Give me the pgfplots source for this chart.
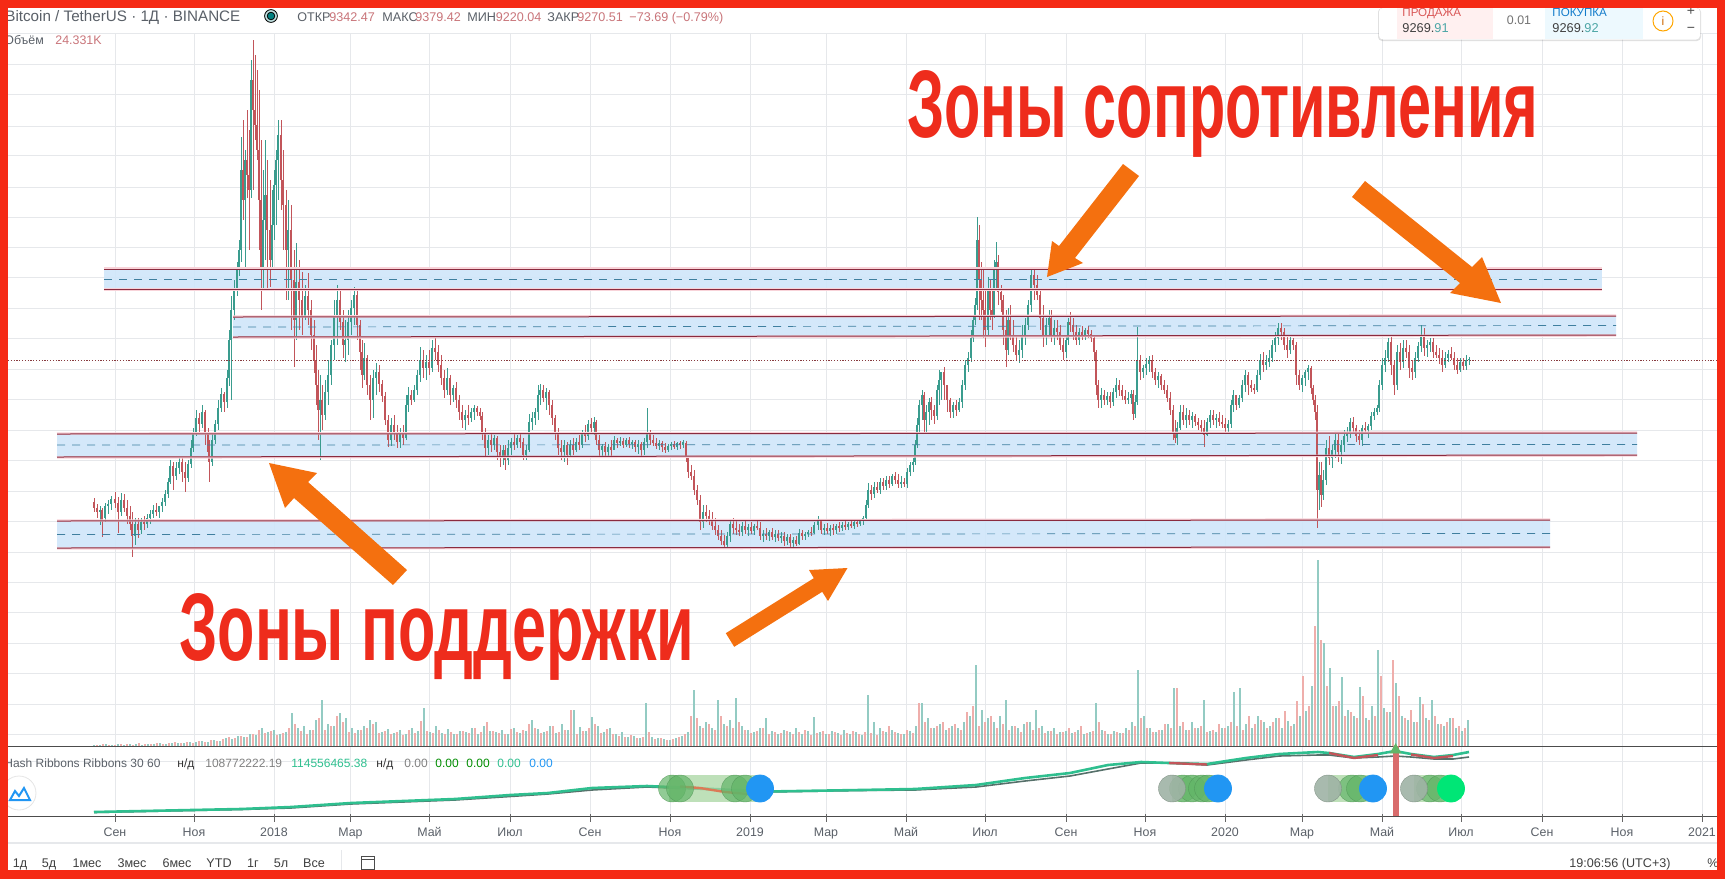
\documentclass[border=0pt]{standalone}
\usepackage{pgfplots}
\pgfplotsset{compat=1.18}
\usepackage{pgfplotstable}
\usepackage{fontspec}
\setmainfont{Liberation Sans}
\definecolor{up}{HTML}{3A9C8E}
\definecolor{down}{HTML}{C2555A}
\definecolor{volup}{HTML}{93CBC3}
\definecolor{voldown}{HTML}{EFAEAB}
\definecolor{zone}{HTML}{CFE6FA}
\definecolor{zoneline}{HTML}{8A2B3F}
\definecolor{halo}{HTML}{F8D3D9}
\definecolor{zonedash}{HTML}{3F7F9F}
\definecolor{gridc}{HTML}{E6E8EB}
\definecolor{arrow}{HTML}{F4700F}
\definecolor{bigred}{HTML}{EE2C1C}
\definecolor{frame}{HTML}{F52A15}
\definecolor{hdr}{HTML}{5A6068}
\definecolor{num}{HTML}{C9757A}
\definecolor{ribbon}{HTML}{2FBF8F}
\definecolor{ribbondark}{HTML}{56706A}
\definecolor{pillg}{HTML}{A8D5A2}
\definecolor{pillm}{HTML}{62B568}
\definecolor{pillgrey}{HTML}{9FB3A5}
\definecolor{pillblue}{HTML}{2196F3}
\definecolor{pillbright}{HTML}{00E676}
% x h l o c, all in picture pixels (y grows downwards)
\pgfplotstableread[row sep=\\]{
x h l o c\\
94 498 512 502 508\\ 97 504 518 508 512\\ 100 506 525 512 510\\ 102 508 537 510 520\\ 105 503 522 518 506\\
108 500 514 506 504\\ 111 496 510 504 499\\ 115 492 508 499 503\\ 118 497 533 503 512\\ 121 493 516 512 500\\
124 494 512 500 508\\ 127 500 524 508 516\\ 130 506 530 516 524\\ 132 512 557 524 536\\ 135 518 545 536 524\\
138 518 538 524 530\\ 141 518 534 530 522\\ 144 516 530 522 524\\ 147 514 528 524 518\\ 150 510 524 518 514\\
153 505 518 514 510\\ 156 503 516 510 512\\ 159 506 518 512 506\\ 162 498 512 506 502\\ 165 490 506 502 494\\
168 478 498 494 482\\ 170 460 484 482 466\\ 173 462 490 466 476\\ 176 462 480 476 468\\ 179 456 474 468 462\\
182 458 482 462 472\\ 185 462 492 472 478\\ 188 460 482 478 464\\ 191 440 468 464 448\\ 193 428 452 448 432\\
196 410 436 432 418\\ 199 413 432 418 424\\ 202 405 428 424 412\\ 205 410 445 412 434\\ 208 428 462 434 452\\
209 440 482 452 462\\ 212 432 466 462 440\\ 215 420 444 440 424\\ 218 400 430 424 408\\ 221 388 412 408 394\\
224 392 412 394 402\\ 227 370 408 402 378\\ 229 330 386 378 340\\ 231 296 400 340 310\\ 234 280 320 310 288\\
237 262 296 288 270\\ 239 240 276 270 250\\ 241 137 262 250 170\\ 243 120 220 170 200\\ 245 150 270 200 160\\
247 110 198 160 175\\ 249 130 250 175 190\\ 251 60 198 190 80\\ 253 40 190 80 110\\ 255 55 140 110 125\\
257 70 160 125 150\\ 259 90 250 150 200\\ 261 140 310 200 270\\ 263 170 290 270 220\\ 265 140 260 220 195\\
267 160 290 195 230\\ 270 180 287 230 260\\ 272 190 270 260 225\\ 274 170 240 225 185\\ 276 150 225 185 160\\
278 120 200 160 135\\ 281 120 210 135 180\\ 283 150 250 180 205\\ 286 190 300 205 250\\ 288 200 300 250 230\\
291 205 330 230 280\\ 294 250 367 280 320\\ 296 243 340 320 282\\ 299 260 330 282 300\\ 302 272 335 300 316\\
305 285 320 316 296\\ 308 273 325 296 310\\ 311 300 350 310 335\\ 314 320 373 335 360\\ 316 345 405 360 385\\
318 370 440 385 410\\ 320 375 460 410 400\\ 322 385 430 400 415\\ 325 380 420 415 392\\ 328 360 405 392 375\\
331 340 385 375 345\\ 334 300 360 345 315\\ 337 285 345 315 300\\ 340 290 330 300 322\\ 343 310 358 322 345\\
345 320 362 345 340\\ 348 310 355 340 322\\ 351 300 335 322 308\\ 354 287 325 308 295\\ 357 290 340 295 325\\
360 320 370 325 352\\ 362 340 388 352 375\\ 364 343 380 375 358\\ 367 355 395 358 385\\ 370 375 420 385 400\\
373 370 418 400 378\\ 376 363 395 378 372\\ 379 365 392 372 384\\ 382 380 402 384 396\\ 385 392 425 396 420\\
388 415 447 420 440\\ 391 418 446 440 425\\ 394 415 440 425 432\\ 397 425 448 432 442\\ 400 428 448 442 432\\
403 425 445 432 438\\ 406 395 440 438 405\\ 408 387 412 405 395\\ 411 390 405 395 400\\ 414 385 402 400 390\\
417 370 395 390 375\\ 420 347 382 375 360\\ 423 350 378 360 368\\ 426 355 380 368 362\\ 429 350 375 362 368\\
432 340 372 368 348\\ 435 337 360 348 352\\ 438 345 372 352 365\\ 441 355 385 365 378\\ 444 370 398 378 390\\
447 368 395 390 378\\ 450 375 405 378 395\\ 453 385 402 395 388\\ 456 382 408 388 400\\ 459 395 420 400 412\\
462 405 428 412 420\\ 465 410 430 420 415\\ 468 405 425 415 418\\ 471 408 422 418 412\\ 474 405 420 412 408\\
477 406 416 408 412\\ 480 408 420 412 416\\ 482 412 440 416 432\\ 485 428 457 432 448\\ 488 435 455 448 440\\
491 432 452 440 445\\ 494 435 450 445 438\\ 497 436 460 438 452\\ 500 445 467 452 458\\ 503 445 465 458 450\\
505 445 470 450 460\\ 508 440 465 460 448\\ 511 438 455 448 442\\ 514 434 450 442 445\\ 517 435 448 445 438\\
520 432 448 438 442\\ 523 438 460 442 455\\ 526 445 460 455 450\\ 529 414 452 450 422\\ 532 412 430 422 418\\
535 408 425 418 412\\ 538 385 420 412 395\\ 540 384 405 395 390\\ 543 385 402 390 398\\ 546 388 410 398 392\\
549 390 415 392 405\\ 552 400 425 405 418\\ 555 415 440 418 432\\ 558 428 455 432 448\\ 561 440 460 448 452\\
564 440 462 452 445\\ 567 442 465 445 455\\ 570 440 458 455 445\\ 573 438 455 445 450\\ 576 438 452 450 442\\
579 435 450 442 445\\ 582 430 448 445 432\\ 585 425 442 432 436\\ 588 420 440 436 424\\ 591 418 432 424 428\\
594 417 435 428 422\\ 596 420 445 422 440\\ 599 435 458 440 450\\ 602 444 456 450 446\\ 605 442 458 446 452\\
608 444 456 452 447\\ 611 440 458 447 450\\ 614 436 450 450 440\\ 617 438 448 440 443\\ 620 437 446 443 441\\
623 438 448 441 445\\ 626 438 447 445 440\\ 629 437 448 440 444\\ 632 440 449 444 442\\ 635 440 452 442 447\\
638 440 454 447 444\\ 641 442 456 444 450\\ 644 438 455 450 442\\ 647 408 448 442 434\\ 650 430 445 434 440\\
653 435 446 440 443\\ 656 438 449 443 446\\ 659 440 450 446 443\\ 662 441 452 443 447\\ 665 443 453 447 450\\
668 444 452 450 446\\ 671 442 450 446 444\\ 674 441 449 444 447\\ 677 442 450 447 443\\ 680 441 449 443 445\\
683 440 448 445 442\\ 686 441 462 443 458\\ 688 456 478 458 472\\ 691 465 480 472 476\\ 694 470 495 476 490\\
697 485 505 490 500\\ 700 495 530 500 522\\ 703 505 528 522 512\\ 706 505 522 512 516\\ 709 510 525 516 520\\
712 512 530 520 526\\ 715 518 535 526 530\\ 718 525 540 530 536\\ 721 530 545 536 541\\ 724 535 548 541 545\\
727 532 549 545 536\\ 730 520 542 536 524\\ 733 518 534 524 528\\ 736 520 535 528 530\\ 739 524 536 530 532\\
742 522 536 532 526\\ 745 521 534 526 530\\ 748 524 536 530 527\\ 751 522 534 527 531\\ 754 524 535 531 526\\
757 521 530 526 528\\ 760 522 540 528 536\\ 763 530 542 536 534\\ 766 528 540 534 536\\ 769 530 541 536 532\\
772 528 540 532 537\\ 775 530 542 537 534\\ 778 530 541 534 538\\ 781 532 543 538 536\\ 784 532 546 536 541\\
787 534 545 541 537\\ 790 534 547 537 543\\ 793 537 548 543 540\\ 796 536 546 540 544\\ 799 529 545 544 533\\
802 530 540 533 536\\ 805 532 540 536 534\\ 808 530 537 534 532\\ 811 527 536 532 533\\ 814 522 534 533 525\\
818 516 530 525 521\\ 821 520 534 521 530\\ 824 524 535 530 528\\ 827 523 534 528 531\\ 830 525 536 531 528\\
833 524 535 528 530\\ 836 524 534 530 526\\ 839 522 532 526 528\\ 842 522 531 528 525\\ 845 521 530 525 527\\
848 522 530 527 524\\ 851 520 528 524 526\\ 854 521 529 526 522\\ 857 520 527 522 524\\ 860 519 526 524 521\\
863 516 525 521 518\\ 866 500 520 518 505\\ 868 483 508 505 490\\ 871 485 500 490 494\\ 874 482 498 494 487\\
877 482 493 487 490\\ 880 478 494 490 482\\ 883 478 490 482 486\\ 886 476 490 486 480\\ 889 476 488 480 484\\
892 474 486 484 476\\ 895 472 484 476 480\\ 898 474 488 480 484\\ 901 476 488 484 482\\ 904 478 487 482 484\\
907 468 488 484 472\\ 910 462 476 472 465\\ 913 458 472 465 462\\ 915 440 465 462 445\\ 917 418 448 445 425\\
919 400 432 425 405\\ 922 390 420 405 395\\ 924 392 432 395 420\\ 926 405 434 420 412\\ 929 398 425 412 402\\
931 397 420 402 410\\ 934 405 424 410 416\\ 937 385 420 416 390\\ 939 370 405 390 380\\ 941 372 400 380 372\\
944 367 400 372 385\\ 947 385 412 385 400\\ 950 398 418 400 412\\ 953 402 418 412 405\\ 956 400 416 405 410\\
959 398 412 410 402\\ 962 380 408 402 385\\ 965 360 390 385 365\\ 968 352 372 365 358\\ 971 330 362 358 338\\
973 315 342 338 320\\ 975 298 325 320 305\\ 977 217 310 305 240\\ 979 225 320 240 280\\ 981 262 320 280 300\\
983 270 338 300 310\\ 985 290 347 310 330\\ 988 277 335 330 290\\ 990 280 320 290 310\\ 992 290 330 310 315\\
994 260 318 315 270\\ 996 242 290 270 262\\ 998 255 305 262 292\\ 1001 285 312 292 300\\ 1003 295 345 300 330\\
1006 310 367 330 350\\ 1008 308 355 350 320\\ 1010 305 340 320 335\\ 1013 320 352 335 345\\ 1016 335 360 345 355\\
1019 340 363 355 350\\ 1022 325 358 350 335\\ 1025 318 345 335 325\\ 1028 300 330 325 305\\ 1031 267 312 305 275\\
1034 268 300 275 285\\ 1037 275 300 285 295\\ 1040 290 330 295 318\\ 1043 305 347 318 335\\ 1046 318 345 335 325\\
1049 310 335 325 318\\ 1051 310 342 318 335\\ 1054 320 345 335 328\\ 1057 320 340 328 332\\ 1060 325 350 332 345\\
1063 338 360 345 352\\ 1066 335 358 352 340\\ 1068 318 345 340 322\\ 1070 312 332 322 325\\ 1073 318 340 325 332\\
1076 325 345 332 340\\ 1079 328 345 340 332\\ 1082 326 340 332 335\\ 1085 328 340 335 330\\ 1088 326 338 330 334\\
1091 330 342 334 338\\ 1094 335 360 338 352\\ 1096 350 395 352 385\\ 1098 380 408 385 400\\ 1101 388 408 400 395\\
1104 390 405 395 400\\ 1107 392 405 400 396\\ 1110 392 408 396 402\\ 1113 388 406 402 392\\ 1116 378 398 392 385\\
1119 380 396 385 390\\ 1122 385 400 390 396\\ 1125 390 404 396 400\\ 1128 392 404 400 398\\ 1131 390 404 398 394\\
1133 390 420 394 414\\ 1135 395 418 414 402\\ 1137 327 405 402 360\\ 1140 355 380 360 372\\ 1143 365 378 372 368\\
1146 358 375 368 364\\ 1149 356 372 364 360\\ 1152 355 378 360 372\\ 1155 368 385 372 380\\ 1158 372 388 380 376\\
1161 374 390 376 385\\ 1164 380 394 385 390\\ 1167 385 402 390 398\\ 1170 392 415 398 410\\ 1173 405 440 410 432\\
1175 420 443 432 438\\ 1177 422 445 438 428\\ 1180 405 430 428 412\\ 1183 405 425 412 420\\ 1186 408 428 420 415\\
1189 410 425 415 420\\ 1192 412 428 420 416\\ 1195 414 426 416 422\\ 1198 418 430 422 425\\ 1201 420 432 425 428\\
1204 420 447 428 435\\ 1207 418 436 435 422\\ 1210 410 428 422 415\\ 1213 410 425 415 420\\ 1216 414 428 420 418\\
1219 412 426 418 422\\ 1222 415 428 422 424\\ 1225 418 434 424 428\\ 1228 420 432 428 424\\ 1231 400 428 424 405\\
1233 390 412 405 395\\ 1236 395 410 395 405\\ 1239 395 408 405 398\\ 1242 380 402 398 385\\ 1245 370 392 385 375\\
1248 372 395 375 385\\ 1251 380 392 385 388\\ 1254 384 394 388 390\\ 1257 370 392 390 375\\ 1260 354 380 375 360\\
1263 352 372 360 365\\ 1266 355 370 365 362\\ 1269 350 367 362 358\\ 1272 340 362 358 345\\ 1275 332 352 345 338\\
1278 323 345 338 328\\ 1281 323 340 328 332\\ 1284 328 350 332 345\\ 1287 335 358 345 350\\ 1290 335 354 350 340\\
1293 338 350 340 345\\ 1296 342 385 345 375\\ 1299 370 390 375 385\\ 1302 375 392 385 378\\ 1305 370 386 378 372\\
1308 365 380 372 368\\ 1311 366 394 368 388\\ 1313 385 405 388 400\\ 1315 395 420 400 412\\ 1317 405 528 412 490\\
1319 462 510 490 475\\ 1321 462 507 475 495\\ 1323 470 500 495 480\\ 1326 440 485 480 448\\ 1329 436 465 448 458\\
1332 445 468 458 450\\ 1335 434 458 450 440\\ 1338 434 462 440 452\\ 1341 440 464 452 445\\ 1344 430 452 445 436\\
1347 427 442 436 432\\ 1350 418 438 432 422\\ 1353 417 432 422 428\\ 1356 425 442 428 436\\ 1359 430 445 436 440\\
1362 425 446 440 428\\ 1365 422 434 428 430\\ 1368 424 438 430 426\\ 1371 412 430 426 416\\ 1374 408 420 416 412\\
1377 405 415 412 408\\ 1379 380 412 408 385\\ 1382 358 390 385 365\\ 1385 350 372 365 358\\ 1388 338 362 358 342\\
1391 336 375 342 365\\ 1394 360 395 365 385\\ 1397 345 390 385 352\\ 1400 343 370 352 362\\ 1403 340 368 362 348\\
1406 340 358 348 352\\ 1409 345 378 352 368\\ 1412 360 380 368 372\\ 1415 352 378 372 358\\ 1418 342 362 358 346\\
1421 325 352 346 335\\ 1424 328 356 335 348\\ 1427 340 357 348 345\\ 1430 338 352 345 342\\ 1433 338 358 342 352\\
1436 345 358 352 355\\ 1439 348 364 355 358\\ 1442 350 372 358 365\\ 1445 352 368 365 358\\ 1448 350 362 358 354\\
1451 347 360 354 358\\ 1454 352 370 358 365\\ 1457 358 374 365 370\\ 1460 358 372 370 362\\ 1463 358 370 362 366\\
1466 355 370 366 360\\ 1469 357 365 360 359\\
}\candles
\newcommand\px[1]{\fontsize{#1}{#1}\selectfont}
\begin{document}
\begin{tikzpicture}
\begin{axis}[
  width=862.5pt, height=439.5pt, scale only axis,
  xmin=0, xmax=1725, ymin=0, ymax=879, y dir=reverse,
  axis line style={draw=none}, tick style={draw=none},
  xtick={115,194,274,350.5,429.5,510,590,670,750,826,906,985,1066,1145,1225,1302,1382,1461,1542,1622,1702},
  xticklabels={},
  ytick={33,64,94,126,155,187,217,247,277,308,338,369,399,430,460,491,521,552,582,612,643,673,704,734,761},
  yticklabels={},
  grid=major, grid style={gridc, line width=.5pt},
  clip=true,
]
% white bands above and below the panes hide the ends of the grid
\fill[white] (0,0) rectangle (1725,32.5);
\fill[white] (0,816) rectangle (1725,879);
\draw[gridc, line width=.8pt] (8,843) -- (1717,843);

% zones
\addplot[fill=zone, fill opacity=.9, draw=none] coordinates {(104,269)(1602,269)(1602,289)(104,289)} --cycle;
\addplot[fill=zone, fill opacity=.9, draw=none] coordinates {(233,317)(1616,316)(1616,335)(233,337)} --cycle;
\addplot[fill=zone, fill opacity=.9, draw=none] coordinates {(57,434)(1637,433)(1637,455)(57,457)} --cycle;
\addplot[fill=zone, fill opacity=.9, draw=none] coordinates {(57,521)(1550,520)(1550,547)(57,548)} --cycle;

% volume
\addplot[draw=none, mark=none, forget plot, error bars/.cd, y dir=plus, y explicit, error mark=none,
  error bar style={draw=volup, line width=.65pt}]
  table[row sep=\\, x expr=94+6*\coordindex, y expr=746-\thisrow{v}, y error plus expr=\thisrow{v}] {
  v\\ 1\\ 1\\ 2\\ 1\\ 2\\ 1\\ 2\\ 2\\ 1\\ 2\\ 2\\ 3\\ 2\\ 3\\ 3\\ 3\\ 4\\ 4\\
  5\\ 4\\ 6\\ 5\\ 8\\ 7\\ 10\\ 9\\ 12\\ 11\\ 18\\ 14\\ 16\\ 12\\ 14\\ 33\\ 18\\ 20\\ 16\\ 26\\ 46\\ 22\\ 20\\ 33\\ 28\\ 18\\ 16\\ 20\\ 26\\ 24\\
  14\\ 17\\ 13\\ 16\\ 12\\ 18\\ 15\\ 38\\ 14\\ 20\\ 13\\ 17\\ 12\\ 15\\
  14\\ 18\\ 12\\ 20\\ 15\\ 14\\ 16\\ 12\\ 18\\ 13\\ 15\\ 26\\ 17\\ 14\\ 20\\ 13\\ 22\\ 16\\
  36\\ 19\\ 15\\ 29\\ 20\\ 14\\ 18\\ 12\\ 14\\ 9\\ 10\\ 8\\ 43\\ 9\\ 8\\ 7\\
  6\\ 8\\ 10\\ 14\\ 56\\ 20\\ 24\\ 18\\ 46\\ 22\\ 26\\ 48\\ 20\\ 16\\ 14\\ 18\\ 28\\ 15\\ 12\\ 16\\ 14\\ 18\\ 12\\ 15\\ 29\\ 14\\ 12\\ 15\\ 13\\ 16\\ 12\\ 14\\ 11\\ 51\\
  24\\ 18\\ 14\\ 16\\ 13\\ 12\\ 15\\ 20\\ 43\\ 28\\ 18\\ 22\\ 16\\ 20\\ 18\\ 24\\ 30\\ 81\\ 36\\ 28\\ 24\\ 30\\ 46\\ 20\\ 18\\ 22\\ 24\\ 36\\ 20\\ 15\\ 18\\ 14\\
  15\\ 13\\ 16\\ 12\\ 14\\ 43\\ 16\\ 12\\ 15\\ 13\\ 18\\ 24\\ 76\\ 30\\ 18\\ 14\\ 16\\ 22\\ 58\\ 20\\ 16\\ 24\\ 18\\ 46\\ 15\\ 14\\ 18\\ 20\\ 54\\ 58\\ 22\\ 18\\ 30\\ 24\\ 20\\ 28\\ 18\\ 25\\ 22\\ 30\\ 35\\ 60\\ 186\\
  103\\ 78\\ 40\\ 69\\ 36\\ 30\\ 59\\ 28\\ 40\\ 96\\ 38\\ 34\\ 63\\ 30\\ 26\\ 24\\ 49\\ 28\\ 46\\ 22\\ 20\\ 28\\ 18\\ 15\\ 26\\
};
\addplot[draw=none, mark=none, forget plot, error bars/.cd, y dir=plus, y explicit, error mark=none,
  error bar style={draw=voldown, line width=.65pt}]
  table[row sep=\\, x expr=97+6*\coordindex, y expr=746-\thisrow{v}, y error plus expr=\thisrow{v}] {
  v\\ 1\\ 2\\ 1\\ 1\\ 2\\ 2\\ 1\\ 3\\ 2\\ 2\\ 3\\ 2\\ 3\\ 4\\ 3\\ 4\\ 3\\ 5\\
  4\\ 6\\ 5\\ 7\\ 9\\ 8\\ 10\\ 9\\ 12\\ 16\\ 13\\ 15\\ 11\\ 13\\ 18\\ 22\\ 15\\ 12\\ 16\\ 28\\ 16\\ 20\\ 30\\ 24\\ 14\\ 13\\ 16\\ 18\\ 22\\ 13\\ 15\\ 12\\ 14\\ 11\\ 16\\ 13\\ 25\\ 15\\ 13\\ 16\\ 12\\
  14\\ 12\\ 15\\ 13\\ 18\\ 14\\ 24\\ 15\\ 13\\ 12\\ 17\\ 14\\ 16\\ 22\\ 18\\ 13\\ 15\\ 20\\
  14\\ 16\\ 36\\ 12\\ 15\\ 18\\ 22\\ 13\\ 17\\ 12\\ 10\\ 9\\ 11\\ 8\\ 9\\
  14\\ 7\\ 8\\ 6\\ 7\\ 9\\ 12\\ 30\\ 28\\ 18\\ 22\\ 16\\ 30\\ 20\\ 18\\ 24\\ 16\\ 13\\ 15\\ 18\\ 12\\ 14\\ 13\\
  15\\ 12\\ 14\\ 16\\ 11\\ 13\\ 15\\ 12\\ 14\\ 11\\ 13\\ 15\\ 12\\ 14\\ 13\\ 11\\ 15\\ 20\\ 14\\ 12\\ 16\\ 13\\ 43\\ 24\\ 18\\ 20\\ 24\\ 18\\ 22\\ 16\\ 34\\ 40\\ 20\\ 24\\ 30\\ 18\\ 22\\ 16\\ 20\\ 14\\ 24\\ 16\\ 18\\ 13\\ 15\\ 12\\ 14\\
  18\\ 14\\ 20\\ 13\\ 15\\ 24\\ 15\\ 12\\ 14\\ 13\\ 16\\ 20\\ 28\\ 18\\ 14\\ 16\\ 22\\ 18\\ 58\\ 24\\ 16\\ 18\\ 20\\ 14\\ 16\\ 22\\ 18\\ 24\\ 20\\ 16\\ 30\\ 22\\ 26\\ 18\\ 24\\ 28\\ 35\\ 20\\ 45\\ 70\\ 40\\ 120\\
  106\\ 60\\ 40\\ 45\\ 30\\ 34\\ 28\\ 50\\ 26\\ 30\\ 70\\ 34\\ 86\\ 50\\ 28\\ 36\\ 24\\ 42\\ 26\\ 30\\ 22\\ 24\\ 28\\ 20\\ 18\\
};

% candles: wicks then bodies
\addplot[draw=none, mark=none, forget plot, error bars/.cd, y dir=plus, y explicit, error mark=none,
  error bar style={draw=up, line width=.3pt}]
  table[x=x, y expr={\thisrow{c}<\thisrow{o} ? \thisrow{h} : nan}, y error plus expr=\thisrow{l}-\thisrow{h}] {\candles};
\addplot[draw=none, mark=none, forget plot, error bars/.cd, y dir=plus, y explicit, error mark=none,
  error bar style={draw=down, line width=.3pt}]
  table[x=x, y expr={\thisrow{c}<\thisrow{o} ? nan : \thisrow{h}}, y error plus expr=\thisrow{l}-\thisrow{h}] {\candles};
\addplot[draw=none, mark=none, forget plot, error bars/.cd, y dir=plus, y explicit, error mark=none,
  error bar style={draw=up, line width=.65pt}]
  table[x=x, y expr={\thisrow{c}<\thisrow{o} ? \thisrow{c} : nan}, y error plus expr=\thisrow{o}-\thisrow{c}] {\candles};
\addplot[draw=none, mark=none, forget plot, error bars/.cd, y dir=plus, y explicit, error mark=none,
  error bar style={draw=down, line width=.65pt}]
  table[x=x, y expr={\thisrow{c}<\thisrow{o} ? nan : \thisrow{o}}, y error plus expr=\thisrow{c}-\thisrow{o}] {\candles};

% zone edges: pink halo, then dark line
\addplot[halo, line width=1.2pt] coordinates {(104,268.5)(1602,268.5)}; \addplot[zoneline, line width=.5pt] coordinates {(104,269)(1602,269)};
\addplot[halo, line width=1.2pt] coordinates {(104,289.5)(1602,289.5)}; \addplot[zoneline, line width=.5pt] coordinates {(104,289)(1602,289)};
\addplot[halo, line width=1.2pt] coordinates {(233,316.5)(1616,315.5)}; \addplot[zoneline, line width=.5pt] coordinates {(233,317)(1616,316)};
\addplot[halo, line width=1.2pt] coordinates {(233,337.5)(1616,335.5)}; \addplot[zoneline, line width=.5pt] coordinates {(233,337)(1616,335)};
\addplot[halo, line width=1.2pt] coordinates {(57,433.5)(1637,432.5)}; \addplot[zoneline, line width=.5pt] coordinates {(57,434)(1637,433)};
\addplot[halo, line width=1.2pt] coordinates {(57,457.5)(1637,455.5)}; \addplot[zoneline, line width=.5pt] coordinates {(57,457)(1637,455)};
\addplot[halo, line width=1.2pt] coordinates {(57,520.5)(1550,519.5)}; \addplot[zoneline, line width=.5pt] coordinates {(57,521)(1550,520)};
\addplot[halo, line width=1.2pt] coordinates {(57,548.5)(1550,547.5)}; \addplot[zoneline, line width=.5pt] coordinates {(57,548)(1550,547)};
\addplot[zonedash, line width=.35pt, dash pattern=on 4pt off 3.5pt] coordinates {(104,279)(1602,279)};
\addplot[zonedash, line width=.35pt, dash pattern=on 4pt off 3.5pt] coordinates {(233,327)(1616,325.5)};
\addplot[zonedash, line width=.35pt, dash pattern=on 4pt off 3.5pt] coordinates {(57,445)(1637,444.5)};
\addplot[zonedash, line width=.35pt, dash pattern=on 4pt off 3.5pt] coordinates {(57,534.5)(1550,533.5)};

% last price
\addplot[down!70!black, line width=.4pt, dash pattern=on .6pt off .8pt] coordinates {(8,360.5)(1717,360.5)};

% pane separators
\addplot[black!70, line width=.5pt] coordinates {(8,746)(1717,746)};
\addplot[black!70, line width=.5pt] coordinates {(8,816)(1717,816)};
\addplot[only marks, mark=|, mark size=2pt, mark options={draw=black!60, line width=.35pt}] coordinates {
  (115,818)(194,818)(274,818)(350.5,818)(429.5,818)(510,818)(590,818)(670,818)(750,818)(826,818)(906,818)
  (985,818)(1066,818)(1145,818)(1225,818)(1302,818)(1382,818)(1461,818)(1542,818)(1622,818)(1702,818)};

% hash ribbons
\addplot[ribbondark, line width=.8pt] coordinates {(94,812.5)(241,809.5)(291,808)(351,804)(455,800)(510,796.5)(548,794)(592,790)(647,787)(768,792)(860,790.5)(915,790)(976,787)(1025,781)(1070,776)(1108,769)(1141,763)(1169,763)(1207,765)(1246,760)(1279,756)(1318,755)(1329,755)(1354,758)(1378,757)(1395,756)(1411,757)(1434,759)(1453,759)(1469,757)};
\addplot[ribbon, line width=1.3pt] coordinates {(94,812)(241,809)(291,807)(351,803)(455,799)(510,795)(548,793)(592,788)(647,786)(768,791.5)(860,790)(915,789)(976,785)(1025,778)(1070,773)(1108,765)(1141,762)(1169,763)(1207,764)(1246,758)(1279,754)(1318,752)(1329,753)(1354,757)(1378,754)(1395,751)(1411,754)(1434,757)(1453,755)(1469,752)};
\addplot[down, line width=1.2pt] coordinates {(1169,763)(1207,764.5)};
\addplot[down, line width=1.2pt] coordinates {(1329,753)(1354,758)(1378,755)};
\addplot[down, line width=1.2pt] coordinates {(1411,754.5)(1434,758)(1453,756)};
\addplot[red!50!white!85!black, line width=3pt] coordinates {(1395.6,746)(1395.6,816)};
\addplot[only marks, mark=triangle*, mark size=3pt, mark options={fill=pillm, draw=pillm}] coordinates {(1395.6,750)};

% ribbon pills: body, ellipses
\addplot[pillg, line width=13.5pt, opacity=.75] coordinates {(669,788.5)(760,788.5)};
\addplot[pillg, line width=13.5pt, opacity=.75] coordinates {(1172,788.5)(1218,788.5)};
\addplot[pillg, line width=13.5pt, opacity=.75] coordinates {(1328,788.5)(1373,788.5)};
\addplot[pillg, line width=13.5pt, opacity=.75] coordinates {(1414,788.5)(1451,788.5)};
\addplot[only marks, mark=*, mark size=6.75pt, mark options={fill=pillm, draw=pillm!80!black, line width=.2pt, opacity=.7}] coordinates {
  (672,788.5)(680,788.5)(735,788.5)(745,788.5)(1183,788.5)(1192,788.5)(1202,788.5)(1208,788.5)(1352,788.5)(1360,788.5)(1430,788.5)(1440,788.5)};
\addplot[only marks, mark=*, mark size=6.75pt, mark options={fill=pillgrey, draw=pillgrey!80!black, line width=.2pt, opacity=.9}] coordinates {
  (1172,788.5)(1328,788.5)(1414,788.5)};
\addplot[brown!70!red!80!white, line width=1.2pt] coordinates {(680,786.5)(700,788)(725,792)(748,794)};
\addplot[only marks, mark=*, mark size=6.75pt, mark options={fill=pillblue, draw=pillblue}] coordinates {(760,788.5)(1218,788.5)(1373,788.5)};
\addplot[only marks, mark=*, mark size=6.75pt, mark options={fill=pillbright, draw=pillbright}] coordinates {(1451,788.5)};

% big arrows
\fill[arrow] (1047,277)--(1052,241)--(1059,246)--(1123,164)--(1139,176)--(1075,258)--(1083,263)--cycle;
\fill[arrow] (1501,303)--(1482,257)--(1472,267)--(1365,181)--(1352,197)--(1460,283)--(1450,293)--cycle;
\fill[arrow] (269,463)--(317,473)--(308,482)--(407,570)--(393,585)--(294,498)--(285,508)--cycle;
\fill[arrow] (847.5,568)--(809,570)--(813.8,578.2)--(725.8,633.2)--(734.2,646.8)--(822.2,591.8)--(828,601)--cycle;

% captions
\node[anchor=base west, inner sep=0pt, text=bigred] at (907,137) {\resizebox{315.5pt}{\height}{\px{48}\bfseries Зоны сопротивления}};
\node[anchor=base west, inner sep=0pt, text=bigred] at (179,660) {\resizebox{257.5pt}{\height}{\px{48}\bfseries Зоны поддержки}};

% header
\fill[white] (8,8) rectangle (800,32);
\node[anchor=base west, inner sep=0pt, text=hdr, font=\px{7.6}] at (5,21) {Bitcoin / TetherUS · 1Д · BINANCE};
\addplot[only marks, mark=*, mark size=3.2pt, mark options={fill=teal!25, draw=none}] coordinates {(271,16)};
\addplot[only marks, mark=*, mark size=1.9pt, mark options={fill=teal, draw=none}] coordinates {(271,16)};
\node[anchor=base west, inner sep=0pt, text=hdr, font=\px{6.3}] at (297,21) {ОТКР};
\node[anchor=base west, inner sep=0pt, text=num, font=\px{6.3}] at (329,21) {9342.47};
\node[anchor=base west, inner sep=0pt, text=hdr, font=\px{6.3}] at (382,21) {МАКС};
\node[anchor=base west, inner sep=0pt, text=num, font=\px{6.3}] at (415,21) {9379.42};
\node[anchor=base west, inner sep=0pt, text=hdr, font=\px{6.3}] at (467,21) {МИН};
\node[anchor=base west, inner sep=0pt, text=num, font=\px{6.3}] at (495.5,21) {9220.04};
\node[anchor=base west, inner sep=0pt, text=hdr, font=\px{6.3}] at (547,21) {ЗАКР};
\node[anchor=base west, inner sep=0pt, text=num, font=\px{6.3}] at (577,21) {9270.51};
\node[anchor=base west, inner sep=0pt, text=num, font=\px{6.3}] at (629,21) {−73.69 (−0.79\%)};
\node[anchor=base west, inner sep=0pt, text=hdr, font=\px{6.2}] at (4,44) {Объём};
\node[anchor=base west, inner sep=0pt, text=num, font=\px{6.2}] at (55,44) {24.331K};

% trading panel, top right
\fill[black, opacity=.12, rounded corners=2pt] (1378,8) rectangle (1701,41);
\fill[white, rounded corners=2pt] (1379,8) rectangle (1700,39.5);
\fill[red!6] (1397,8) rectangle (1493,39);
\fill[cyan!7] (1545,8) rectangle (1643,39);
\node[anchor=base west, inner sep=0pt, text=red!60!white!85!black, font=\px{5.8}] at (1402,16) {ПРОДАЖА};
\node[anchor=base west, inner sep=0pt, text=black!75, font=\px{6.4}] at (1402,32) {9269.\textcolor{teal!70}{91}};
\node[inner sep=0pt, text=black!55, font=\px{6.2}] at (1519,20) {0.01};
\node[anchor=base west, inner sep=0pt, text=cyan!60!blue, font=\px{5.8}] at (1552,16) {ПОКУПКА};
\node[anchor=base west, inner sep=0pt, text=black!75, font=\px{6.4}] at (1552,32) {9269.\textcolor{teal!70}{92}};
\draw[orange!70!yellow, line width=.5pt] (1663,21) circle[radius=5pt];
\node[inner sep=0pt, text=orange!80!black, font=\px{6}] at (1663,21) {i};
\node[inner sep=0pt, text=black!70, font=\px{7}] at (1691,11) {+};
\node[inner sep=0pt, text=black!70, font=\px{7}] at (1691,29.5) {−};

% indicator legend
\node[anchor=base west, inner sep=0pt, text=hdr, font=\px{6}] at (4,767) {Hash Ribbons Ribbons 30 60};
\node[anchor=base west, inner sep=0pt, text=black!80, font=\px{6}] at (177,767) {н/д};
\node[anchor=base west, inner sep=0pt, text=black!50, font=\px{6}] at (205,767) {108772222.19};
\node[anchor=base west, inner sep=0pt, text=ribbon, font=\px{6}] at (291,767) {114556465.38};
\node[anchor=base west, inner sep=0pt, text=black!80, font=\px{6}] at (376,767) {н/д};
\node[anchor=base west, inner sep=0pt, text=black!50, font=\px{6}] at (404,767) {0.00};
\node[anchor=base west, inner sep=0pt, text=green!55!black, font=\px{6}] at (435,767) {0.00};
\node[anchor=base west, inner sep=0pt, text=green!55!black, font=\px{6}] at (466,767) {0.00};
\node[anchor=base west, inner sep=0pt, text=ribbon, font=\px{6}] at (497,767) {0.00};
\node[anchor=base west, inner sep=0pt, text=pillblue, font=\px{6}] at (529,767) {0.00};
% logo
\draw[black!10, fill=white, line width=.4pt] (19,793) circle[radius=8.5pt];
\draw[pillblue, line width=1pt] (10,800)--(15,791)--(19,796)--(24,788)--(30,800)--cycle;

% time axis labels
\node[anchor=base, inner sep=0pt, text=hdr, font=\px{6.2}] at (115,836) {Сен};
\node[anchor=base, inner sep=0pt, text=hdr, font=\px{6.2}] at (194,836) {Ноя};
\node[anchor=base, inner sep=0pt, text=hdr, font=\px{6.2}] at (274,836) {2018};
\node[anchor=base, inner sep=0pt, text=hdr, font=\px{6.2}] at (350.5,836) {Мар};
\node[anchor=base, inner sep=0pt, text=hdr, font=\px{6.2}] at (429.5,836) {Май};
\node[anchor=base, inner sep=0pt, text=hdr, font=\px{6.2}] at (510,836) {Июл};
\node[anchor=base, inner sep=0pt, text=hdr, font=\px{6.2}] at (590,836) {Сен};
\node[anchor=base, inner sep=0pt, text=hdr, font=\px{6.2}] at (670,836) {Ноя};
\node[anchor=base, inner sep=0pt, text=hdr, font=\px{6.2}] at (750,836) {2019};
\node[anchor=base, inner sep=0pt, text=hdr, font=\px{6.2}] at (826,836) {Мар};
\node[anchor=base, inner sep=0pt, text=hdr, font=\px{6.2}] at (906,836) {Май};
\node[anchor=base, inner sep=0pt, text=hdr, font=\px{6.2}] at (985,836) {Июл};
\node[anchor=base, inner sep=0pt, text=hdr, font=\px{6.2}] at (1066,836) {Сен};
\node[anchor=base, inner sep=0pt, text=hdr, font=\px{6.2}] at (1145,836) {Ноя};
\node[anchor=base, inner sep=0pt, text=hdr, font=\px{6.2}] at (1225,836) {2020};
\node[anchor=base, inner sep=0pt, text=hdr, font=\px{6.2}] at (1302,836) {Мар};
\node[anchor=base, inner sep=0pt, text=hdr, font=\px{6.2}] at (1382,836) {Май};
\node[anchor=base, inner sep=0pt, text=hdr, font=\px{6.2}] at (1461,836) {Июл};
\node[anchor=base, inner sep=0pt, text=hdr, font=\px{6.2}] at (1542,836) {Сен};
\node[anchor=base, inner sep=0pt, text=hdr, font=\px{6.2}] at (1622,836) {Ноя};
\node[anchor=base, inner sep=0pt, text=hdr, font=\px{6.2}] at (1702,836) {2021};

% bottom bar
\node[anchor=base, inner sep=0pt, text=black!75, font=\px{6.3}] at (20,867) {1д};
\node[anchor=base, inner sep=0pt, text=black!75, font=\px{6.3}] at (49,867) {5д};
\node[anchor=base, inner sep=0pt, text=black!75, font=\px{6.3}] at (87,867) {1мес};
\node[anchor=base, inner sep=0pt, text=black!75, font=\px{6.3}] at (132,867) {3мес};
\node[anchor=base, inner sep=0pt, text=black!75, font=\px{6.3}] at (177,867) {6мес};
\node[anchor=base, inner sep=0pt, text=black!75, font=\px{6.3}] at (219,867) {YTD};
\node[anchor=base, inner sep=0pt, text=black!75, font=\px{6.3}] at (253,867) {1г};
\node[anchor=base, inner sep=0pt, text=black!75, font=\px{6.3}] at (281,867) {5л};
\node[anchor=base, inner sep=0pt, text=black!75, font=\px{6.3}] at (314,867) {Все};
\draw[gridc, line width=.5pt] (341,850)--(341,870);
\draw[black!70, line width=.4pt] (361,856) rectangle (374,869);
\draw[black!70, line width=.4pt] (361,859)--(374,859);
\node[anchor=base, inner sep=0pt, text=black!75, font=\px{6.3}] at (1620,867) {19:06:56 (UTC+3)};
\node[anchor=base, inner sep=0pt, text=black!75, font=\px{6.3}] at (1713,867) {\%};

% red frame
\fill[frame] (0,0) rectangle (1725,8);
\fill[frame] (0,870) rectangle (1725,879);
\fill[frame] (0,0) rectangle (8,879);
\fill[frame] (1717,0) rectangle (1725,879);
\end{axis}
\pgfresetboundingbox
\path[use as bounding box] (0,0) rectangle (862.5pt,439.5pt);
\end{tikzpicture}
\end{document}
